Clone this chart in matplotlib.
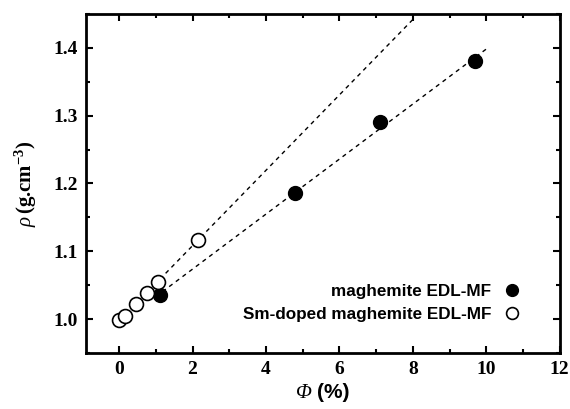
import numpy as np
import matplotlib
matplotlib.use('Agg')
import matplotlib.pyplot as plt
from matplotlib.ticker import MultipleLocator

plt.rcParams['mathtext.fontset'] = 'custom'
plt.rcParams['mathtext.rm'] = 'Liberation Serif:bold'
plt.rcParams['mathtext.it'] = 'Liberation Serif:italic'
plt.rcParams['mathtext.bf'] = 'Liberation Serif:bold'

# maghemite EDL-MF (filled)
phi_mag = [1.1, 4.8, 7.1, 9.7]
rho_mag = [1.035, 1.186, 1.290, 1.380]
# Sm-doped maghemite EDL-MF (open)
phi_sm = [0.0, 0.15, 0.45, 0.75, 1.05, 2.15]
rho_sm = [0.998, 1.005, 1.022, 1.038, 1.055, 1.117]

fig = plt.figure(figsize=(5.7, 4.09), dpi=100)
ax = fig.add_axes([0.151, 0.137, 0.831, 0.829])

# linear fits
p1 = np.polyfit(phi_mag, rho_mag, 1)
xf1 = np.linspace(1.0, 10.0, 50)
ax.plot(xf1, np.polyval(p1, xf1), ls=(0, (3, 3)), color='k', lw=1)
p2 = np.polyfit(phi_sm, rho_sm, 1)
xf2 = np.linspace(0.0, 8.0, 50)
ax.plot(xf2, np.polyval(p2, xf2), ls=(0, (3, 3)), color='k', lw=1)

ax.plot(phi_mag, rho_mag, 'o', color='k', ms=10, label='maghemite EDL-MF')
ax.plot(phi_sm, rho_sm, 'o', mfc='white', mec='k', mew=1.2, ms=10,
        label='Sm-doped maghemite EDL-MF')

ax.set_xlim(-0.9, 12)
ax.set_ylim(0.95, 1.45)
ax.xaxis.set_major_locator(MultipleLocator(2))
ax.xaxis.set_minor_locator(MultipleLocator(1))
ax.yaxis.set_major_locator(MultipleLocator(0.1))
ax.yaxis.set_minor_locator(MultipleLocator(0.05))
ax.tick_params(which='both', direction='in', top=True, right=True, width=1.5)
ax.tick_params(which='major', length=5, pad=6)
ax.tick_params(which='minor', length=3)
for s in ax.spines.values():
    s.set_linewidth(2)
ax.xaxis.set_major_formatter(plt.FuncFormatter(lambda v, p: '%d' % v))
ax.yaxis.set_major_formatter(plt.FuncFormatter(lambda v, p: '%.1f' % v))
for t in ax.get_xticklabels() + ax.get_yticklabels():
    t.set_fontfamily('Liberation Serif')
    t.set_fontweight('bold')
    t.set_fontsize(14)

# x label: italic serif Phi + bold sans "(%)"
fig.text(312 / 570, 1 - 393 / 409, 'Φ', family='Liberation Serif', style='italic',
         fontsize=15, ha='right', va='center')
fig.text(317 / 570, 1 - 393 / 409, '(%)', family='Liberation Sans', weight='bold',
         fontsize=15, ha='left', va='center')
ax.set_ylabel(r'$\mathit{\rho}\,$(g.cm$^{-3}$)', fontfamily='Liberation Serif',
              fontweight='bold', fontsize=15, labelpad=10)

leg = ax.legend(loc='lower right', frameon=False, markerfirst=False,
                prop={'family': 'Liberation Sans', 'weight': 'bold', 'size': 12.3},
                handlelength=1.0, handletextpad=0.7, borderaxespad=0.0,
                labelspacing=0.45, bbox_to_anchor=(0.931, 0.072))
for h in leg.legend_handles:
    h.set_markersize(8.5)

fig.savefig('out.png', dpi=100)
